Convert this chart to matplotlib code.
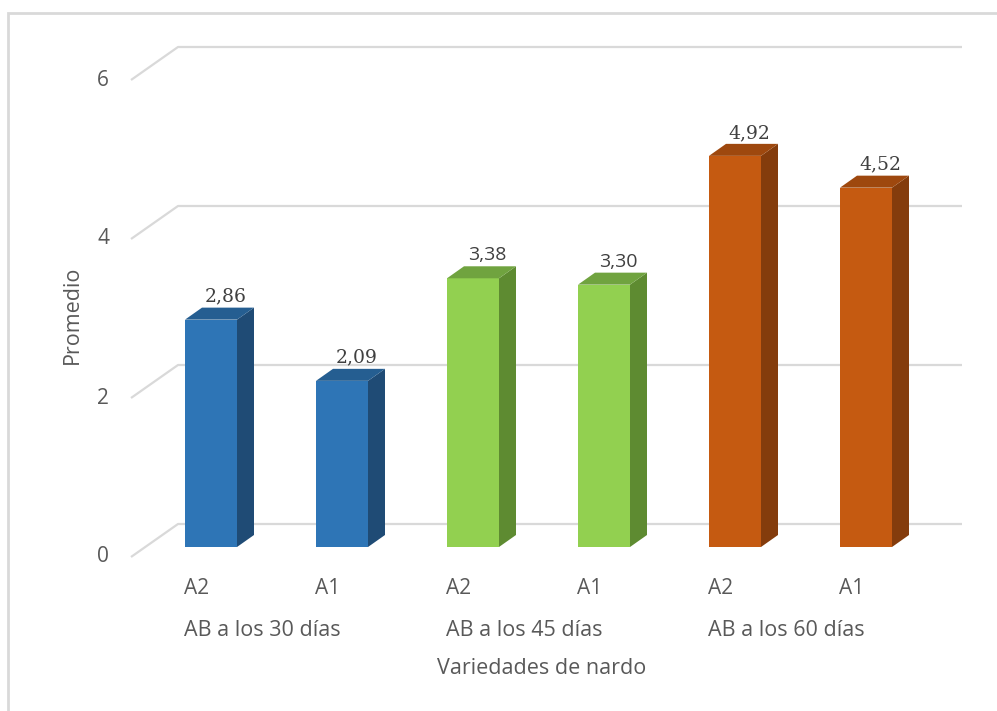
import matplotlib.pyplot as plt
from matplotlib.patches import Polygon, Rectangle

# promedio por variedad y etapa
grupos = ['AB a los 30 días', 'AB a los 45 días', 'AB a los 60 días']
variedades = ['A2', 'A1', 'A2', 'A1', 'A2', 'A1']
promedio = [2.86, 2.09, 3.38, 3.30, 4.92, 4.52]
etiquetas = ['2,86', '2,09', '3,38', '3,30', '4,92', '4,52']
yticks = [0, 2, 4, 6]

# colores: frente, lado, tapa
col_frente = ['#2E75B6', '#2E75B6', '#92D050', '#92D050', '#C55A11', '#C55A11']
col_lado = ['#1F4B75', '#1F4B75', '#5E8B31', '#5E8B31', '#843C0C', '#843C0C']
col_tapa = ['#255E91', '#255E91', '#70A33F', '#70A33F', '#9E480E', '#9E480E']
fuente_val = ['serif', 'serif', 'sans', 'sans', 'serif', 'serif']

W, H = 997, 711
fig = plt.figure(figsize=(W / 100, H / 100), dpi=100)
ax = fig.add_axes([0, 0, 1, 1])

# escala: 131 px por barra, 79.5 px por unidad, base de barras en y=547 px
px_x, px_y = 131.0, 79.5
x0_px, y0_px = 211.0, 547.0
ax.set_xlim(-x0_px / px_x, (W - x0_px) / px_x)
ax.set_ylim((y0_px - H) / px_y, y0_px / px_y)
ax.axis('off')

def dx(p):
    return p / px_x

def dy(p):
    return p / px_y

gris = '#D9D9D9'
texto = '#595959'
sans = 'Open Sans'

# rejilla con perspectiva (frente -> fondo)
x_fr, x_fo, x_fin = dx(131 - x0_px), dx(178 - x0_px), dx(962 - x0_px)
for v in yticks:
    ax.plot([x_fr, x_fo, x_fin], [v - dy(10), v + dy(23), v + dy(23)],
            color=gris, lw=1.6, solid_capstyle='butt', zorder=1)
    ax.text(dx(109 - x0_px), v - dy(10), str(v), ha='right', va='center',
            fontsize=15, color=texto, family=sans)

# barras 3D
ancho = dx(52)
prof_x, prof_y = dx(17), dy(12)
for i, v in enumerate(promedio):
    xl, xr = i - ancho / 2, i + ancho / 2
    ax.bar(i, v, width=ancho, color=col_frente[i], zorder=3)
    ax.add_patch(Polygon([(xr, 0), (xr + prof_x, prof_y), (xr + prof_x, v + prof_y), (xr, v)],
                         closed=True, facecolor=col_lado[i], edgecolor='none', zorder=3))
    ax.add_patch(Polygon([(xl, v), (xr, v), (xr + prof_x, v + prof_y), (xl + prof_x, v + prof_y)],
                         closed=True, facecolor=col_tapa[i], edgecolor='none', zorder=3))
    if fuente_val[i] == 'serif':
        fam, tam = ['DejaVu Serif'], 13.5
    else:
        fam, tam = [sans], 14
    ax.text(i + prof_x / 2 + dx(6), v + prof_y + dy(2), etiquetas[i], ha='center', va='bottom',
            fontsize=tam, color='#404040', family=fam, zorder=4)

# etiquetas de categorias
for i, t in enumerate(variedades):
    ax.text(i - dx(14), dy(547 - 588), t, ha='center', va='center',
            fontsize=15, color=texto, family=sans)
for g, t in enumerate(grupos):
    ax.text(2 * g + 0.5 - dx(14), dy(547 - 631), t, ha='center', va='center',
            fontsize=15.5, color=texto, family=sans)

ax.text(dx(542 - x0_px), dy(547 - 668), 'Variedades de nardo', ha='center', va='center',
        fontsize=15.5, color=texto, family=sans)
ax.text(dx(72 - x0_px), dy(547 - 315), 'Promedio', ha='center', va='center',
        rotation=90, fontsize=15.5, color=texto, family=sans)

# marco del grafico
fig.add_artist(Rectangle((8 / W, -0.05), 1.2, (H - 13) / H + 0.05, transform=fig.transFigure,
                         fill=False, edgecolor=gris, lw=2))

fig.savefig('out.png', dpi=100)
